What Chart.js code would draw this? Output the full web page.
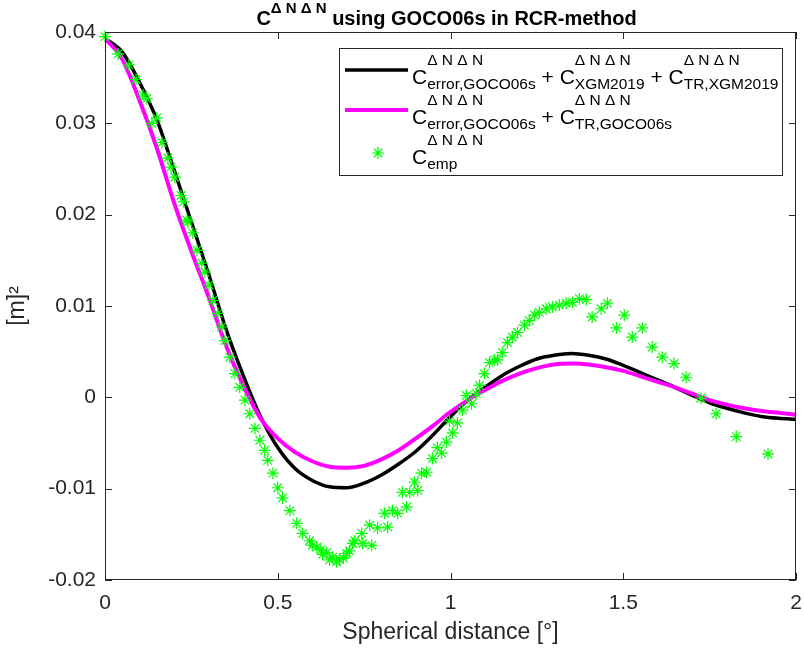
<!DOCTYPE html>
<html><head><meta charset="utf-8">
<script src="https://cdn.jsdelivr.net/npm/chart.js@4/dist/chart.umd.min.js"></script>
<style>html,body{margin:0;padding:0;background:#fff;}#wrap{width:804px;height:649px;}</style>
</head><body><div id="wrap"><canvas id="c" width="804" height="649"></canvas></div>
<script>
// ---- data ----
const curveX = [0,0.05,0.1,0.15,0.2,0.25,0.3,0.35,0.4,0.45,0.5,0.55,0.6,0.65,0.7,0.75,0.8,0.85,0.9,0.95,1,1.05,1.1,1.15,1.2,1.25,1.3,1.35,1.4,1.45,1.5,1.55,1.6,1.65,1.7,1.75,1.8,1.85,1.9,1.95,2];
const blackY = [0.0393,0.0378,0.0345,0.0304,0.0249,0.0192,0.0135,0.0075,0.0024,-0.0021,-0.0055,-0.0078,-0.0091,-0.0098,-0.0099,-0.0094,-0.0085,-0.0073,-0.0059,-0.0041,-0.0021,-0.0003,0.0011,0.0024,0.0034,0.0042,0.0046,0.0048,0.0046,0.0042,0.0035,0.0027,0.0019,0.0011,0.0002,-0.0006,-0.0012,-0.0017,-0.0021,-0.0023,-0.0024];
const pinkY = [0.0393,0.0370,0.0325,0.0273,0.0213,0.0160,0.0110,0.0057,0.0013,-0.0023,-0.0045,-0.0060,-0.0070,-0.0076,-0.0077,-0.0075,-0.0068,-0.0058,-0.0045,-0.0031,-0.0016,-0.0003,0.0008,0.0018,0.0026,0.0032,0.0036,0.0037,0.0036,0.0033,0.0029,0.0023,0.0017,0.0011,0.0004,-0.0003,-0.0008,-0.0012,-0.0015,-0.0017,-0.0019];
const empX = [0,0.038,0.069,0.090,0.110,0.121,0.136,0.150,0.165,0.182,0.191,0.202,0.220,0.228,0.237,0.240,0.254,0.266,0.280,0.289,0.301,0.312,0.327,0.338,0.347,0.361,0.376,0.390,0.405,0.419,0.434,0.448,0.462,0.471,0.486,0.500,0.514,0.535,0.555,0.572,0.592,0.600,0.613,0.625,0.630,0.642,0.650,0.659,0.670,0.679,0.690,0.699,0.708,0.717,0.723,0.743,0.746,0.766,0.772,0.789,0.809,0.818,0.832,0.847,0.861,0.873,0.882,0.896,0.905,0.916,0.931,0.948,0.962,0.974,0.988,0.997,1.006,1.020,1.035,1.046,1.061,1.075,1.084,1.098,1.113,1.127,1.136,1.150,1.165,1.179,1.194,1.214,1.228,1.243,1.257,1.277,1.295,1.315,1.335,1.353,1.373,1.393,1.410,1.436,1.454,1.480,1.503,1.526,1.555,1.584,1.613,1.647,1.682,1.725,1.769,1.827,1.919];
const empY = [0.0395,0.0376,0.0364,0.0348,0.0331,0.0327,0.0300,0.0306,0.0279,0.0262,0.0252,0.0241,0.0221,0.0214,0.0194,0.0192,0.0180,0.0161,0.0147,0.0137,0.0123,0.0106,0.0092,0.0077,0.0062,0.0044,0.0026,0.0011,-0.0003,-0.0018,-0.0034,-0.0047,-0.0058,-0.0069,-0.0083,-0.0099,-0.0110,-0.0124,-0.0138,-0.0149,-0.0157,-0.0162,-0.0164,-0.0167,-0.0172,-0.0170,-0.0178,-0.0175,-0.0180,-0.0177,-0.0176,-0.0171,-0.0168,-0.0160,-0.0157,-0.0149,-0.0160,-0.0140,-0.0162,-0.0143,-0.0127,-0.0142,-0.0124,-0.0127,-0.0104,-0.0120,-0.0104,-0.0093,-0.0102,-0.0083,-0.0082,-0.0067,-0.0055,-0.0061,-0.0049,-0.0026,-0.0039,-0.0028,-0.0014,0.0002,-0.0007,0.0004,0.0013,0.0026,0.0038,0.0041,0.0041,0.0049,0.0060,0.0066,0.0071,0.0079,0.0084,0.0090,0.0093,0.0097,0.0099,0.0101,0.0103,0.0104,0.0108,0.0107,0.0088,0.0097,0.0103,0.0076,0.0090,0.0066,0.0076,0.0055,0.0044,0.0037,0.0022,-0.0001,-0.0018,-0.0043,-0.0062];
const xTicks = [0,0.5,1,1.5,2];
const yTicks = [-0.02,-0.01,0,0.01,0.02,0.03,0.04];
const xLabel = 'Spherical distance [°]';
const yLabel = '[m]²';

// ---- styling ----
const AX = '#262626';
const FONT = '"Liberation Sans", Arial, Helvetica, sans-serif';

function rich(ctx, x, base, parts, o, dry){
  for (const p of parts){
    if (typeof p === 'string'){
      ctx.font = o.main; if(!dry) ctx.fillText(p, x, base); x += ctx.measureText(p).width;
    } else {
      ctx.font = o.small; let w = 0;
      if (p.sup){ if(!dry) ctx.fillText(p.sup, x, base - o.supOff); w = ctx.measureText(p.sup).width; }
      if (p.sub){ if(!dry) ctx.fillText(p.sub, x, base + o.subOff); w = Math.max(w, ctx.measureText(p.sub).width); }
      x += w;
    }
  }
  return x;
}
function star(ctx, x, y, r, color, lw){
  ctx.save(); ctx.strokeStyle = color; ctx.lineWidth = lw; ctx.beginPath();
  ctx.moveTo(x-r,y); ctx.lineTo(x+r,y); ctx.moveTo(x,y-r); ctx.lineTo(x,y+r);
  const d = r*Math.SQRT1_2;
  ctx.moveTo(x-d,y-d); ctx.lineTo(x+d,y+d); ctx.moveTo(x-d,y+d); ctx.lineTo(x+d,y-d);
  ctx.stroke(); ctx.restore();
}

const DNDN = 'Δ N Δ N';
const decor = {
  id: 'decor',
  afterDatasetsDraw(chart){
    const {ctx, chartArea: a, scales: {x, y}} = chart;
    ctx.save();
    ctx.strokeStyle = AX; ctx.lineWidth = 1;
    ctx.strokeRect(a.left + 0.5, a.top + 0.5, a.right - a.left - 1, a.bottom - a.top - 1);
    ctx.beginPath();
    const tl = 7;
    for (const v of xTicks){
      const px = Math.round(x.getPixelForValue(v)) + 0.5;
      ctx.moveTo(px, a.bottom); ctx.lineTo(px, a.bottom - tl);
      ctx.moveTo(px, a.top); ctx.lineTo(px, a.top + tl);
    }
    for (const v of yTicks){
      const py = Math.round(y.getPixelForValue(v)) + 0.5;
      ctx.moveTo(a.left, py); ctx.lineTo(a.left + tl, py);
      ctx.moveTo(a.right, py); ctx.lineTo(a.right - tl, py);
    }
    ctx.stroke();

    // title
    ctx.fillStyle = '#000'; ctx.textBaseline = 'alphabetic'; ctx.textAlign = 'left';
    const to = {main: 'bold 20px ' + FONT, small: 'bold 15px ' + FONT, supOff: 12, subOff: 5};
    const tparts = ['C', {sup: DNDN}, ' using GOCO06s in RCR-method'];
    const tw = rich(ctx, 0, 0, tparts, to, true);
    const cx = (a.left + a.right) / 2 - 4;
    rich(ctx, cx - tw / 2, 25, tparts, to, false);

    // legend
    const L = 339, T = 48, W = 443, H = 127;
    ctx.fillStyle = '#fff'; ctx.fillRect(L, T, W, H);
    ctx.strokeStyle = AX; ctx.lineWidth = 1; ctx.strokeRect(L + 0.5, T + 0.5, W, H);
    ctx.lineCap = 'butt';
    ctx.strokeStyle = '#000'; ctx.lineWidth = 3.5;
    ctx.beginPath(); ctx.moveTo(L + 6, 70); ctx.lineTo(L + 69, 70); ctx.stroke();
    ctx.strokeStyle = '#ff00ff'; ctx.lineWidth = 4;
    ctx.beginPath(); ctx.moveTo(L + 6, 110); ctx.lineTo(L + 69, 110); ctx.stroke();
    star(ctx, L + 39, 153, 6, '#00ff00', 1.2);
    ctx.fillStyle = '#000';
    const lo = {main: '21px ' + FONT, small: '15.5px ' + FONT, supOff: 19, subOff: 5};
    const tx = L + 73;
    rich(ctx, tx, 84, ['C', {sup: DNDN, sub: 'error,GOCO06s'}, ' + C', {sup: DNDN, sub: 'XGM2019'}, ' + C', {sup: DNDN, sub: 'TR,XGM2019'}], lo);
    rich(ctx, tx, 124, ['C', {sup: DNDN, sub: 'error,GOCO06s'}, ' + C', {sup: DNDN, sub: 'TR,GOCO06s'}], lo);
    rich(ctx, tx, 164, ['C', {sup: DNDN, sub: 'emp'}], lo);
    ctx.restore();
  }
};

const pts = (xs, ys) => xs.map((v, i) => ({x: v, y: ys[i]}));

new Chart(document.getElementById('c'), {
  type: 'scatter',
  data: {
    datasets: [
      {label: 'emp', data: pts(empX, empY), showLine: false, pointStyle: 'star', pointRadius: 6, pointHoverRadius: 6,
       borderColor: '#00ff00', backgroundColor: '#00ff00', pointBorderWidth: 1.2, order: 0, clip: 8},
      {label: 'pink', data: pts(curveX, pinkY), showLine: true, pointRadius: 0, borderColor: '#ff00ff', borderWidth: 4,
       cubicInterpolationMode: 'monotone', order: 1},
      {label: 'black', data: pts(curveX, blackY), showLine: true, pointRadius: 0, borderColor: '#000000', borderWidth: 3.5,
       cubicInterpolationMode: 'monotone', order: 2}
    ]
  },
  options: {
    responsive: false, devicePixelRatio: 1, animation: false, events: [],
    layout: {padding: {top: 32, right: 8, left: 0, bottom: 0}},
    plugins: {legend: {display: false}, tooltip: {enabled: false}, title: {display: false}},
    scales: {
      x: {
        type: 'linear', min: 0, max: 2,
        afterBuildTicks: s => { s.ticks = xTicks.map(v => ({value: v})); },
        afterFit: s => { s.height = 69; s.paddingLeft = 0; s.paddingRight = 0; },
        grid: {display: true, drawOnChartArea: false, drawTicks: false, color: 'rgba(0,0,0,0)'},
        border: {display: false},
        ticks: {font: {family: FONT, size: 21}, color: AX, padding: 11, maxRotation: 0, callback: v => String(+(+v).toFixed(2))},
        title: {display: true, text: xLabel, font: {family: FONT, size: 23}, color: AX, padding: {top: 0, bottom: 3}}
      },
      y: {
        type: 'linear', min: -0.02, max: 0.04,
        afterBuildTicks: s => { s.ticks = yTicks.map(v => ({value: v})); },
        afterFit: s => { s.width = 105; s.paddingTop = 0; s.paddingBottom = 0; },
        grid: {display: true, drawOnChartArea: false, drawTicks: false, color: 'rgba(0,0,0,0)'},
        border: {display: false},
        ticks: {font: {family: FONT, size: 21}, color: AX, padding: 9, callback: v => String(+(+v).toFixed(2))},
        title: {display: true, text: yLabel, font: {family: FONT, size: 23}, color: AX, padding: {top: 4, bottom: 0}}
      }
    }
  },
  plugins: [decor]
});
</script>
</body></html>
